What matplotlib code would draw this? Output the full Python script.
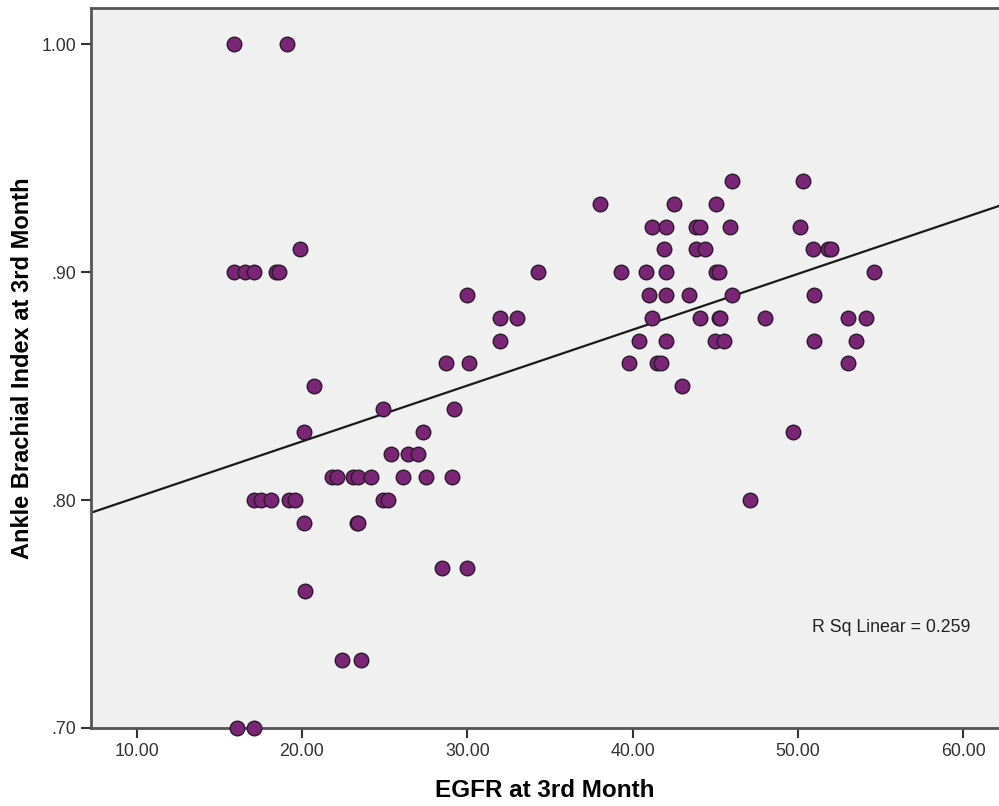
import numpy as np
import matplotlib
matplotlib.use("Agg")
import matplotlib.pyplot as plt

plt.rcParams['font.family'] = ['Liberation Sans', 'DejaVu Sans']

# EGFR values grouped by ABI level
abi_levels = [1.00, 0.94, 0.93, 0.92, 0.91, 0.90, 0.89, 0.88, 0.87, 0.86, 0.85,
              0.84, 0.83, 0.82, 0.81, 0.80, 0.79, 0.77, 0.76, 0.73, 0.70]
egfr_groups = [
    [15.9, 19.1],
    [46.0, 50.3],
    [38.0, 42.5, 45.05],
    [41.2, 42.0, 43.85, 44.1, 45.9, 50.1],
    [19.9, 41.9, 43.85, 44.4, 50.9, 51.8, 52.0],
    [15.9, 16.55, 17.1, 18.4, 18.6, 34.3, 39.3, 40.8, 42.0, 45.05, 45.2, 54.6],
    [30.0, 41.0, 42.0, 43.4, 46.0, 51.0],
    [32.0, 33.0, 41.2, 44.1, 45.2, 45.3, 48.0, 53.0, 54.1],
    [32.0, 40.4, 42.0, 45.0, 45.5, 51.0, 53.5],
    [28.7, 30.1, 39.8, 41.5, 41.7, 53.0],
    [20.7, 43.0],
    [24.9, 29.2],
    [20.1, 27.3, 49.7],
    [25.4, 26.4, 27.0],
    [21.8, 22.1, 23.1, 23.4, 24.2, 26.1, 27.5, 29.1],
    [17.1, 17.5, 18.1, 19.2, 19.6, 24.9, 25.2, 47.1],
    [20.1, 23.3, 23.4],
    [28.5, 30.0],
    [20.2],
    [22.4, 23.6],
    [16.1, 17.1],
]

# fit line as shown in the chart
fit_slope = 0.002451
fit_intercept = 0.7767
r2_label = "R Sq Linear = 0.259"

x_ticks = [10, 20, 30, 40, 50, 60]
x_tick_labels = ["10.00", "20.00", "30.00", "40.00", "50.00", "60.00"]
y_ticks = [0.70, 0.80, 0.90, 1.00]
y_tick_labels = [".70", ".80", ".90", "1.00"]

egfr = np.array([v for g in egfr_groups for v in g])
abi = np.array([lvl for lvl, g in zip(abi_levels, egfr_groups) for _ in g])

fig = plt.figure(figsize=(9.99, 8.06), dpi=100)
ax = fig.add_axes([91/999, 78/806, 1 - 91/999, (728-8)/806])
ax.set_facecolor('#f0f0f0')

xlim = (7.24, 62.16)
ylim = (0.70, 1.0159)
ax.set_xlim(*xlim)
ax.set_ylim(*ylim)

xs = np.array(xlim)
ax.plot(xs, fit_slope * xs + fit_intercept, color='#1a1a1a', lw=1.6, zorder=2)

ax.scatter(egfr, abi, s=110, c='#7b2577', edgecolors='#2b1a2b', linewidths=1.0,
           zorder=3, clip_on=False)

ax.text(50.85, 0.744, r2_label, fontsize=12.8, color='#222222',
        ha='left', va='center')

ax.set_xticks(x_ticks)
ax.set_xticklabels(x_tick_labels)
ax.set_yticks(y_ticks)
ax.set_yticklabels(y_tick_labels)
ax.tick_params(axis='both', direction='out', length=7.5, width=1.5, color='#333333',
               labelsize=12.8, labelcolor='#333333', pad=3)

for side in ['left', 'bottom', 'top']:
    ax.spines[side].set_color('#555555')
    ax.spines[side].set_linewidth(2)
ax.spines['right'].set_visible(False)

ax.set_xlabel("EGFR at 3rd Month", fontsize=17.5, fontweight='bold', labelpad=14)
ax.set_ylabel("Ankle Brachial Index at 3rd Month", fontsize=17, fontweight='bold')
ax.yaxis.set_label_coords(-0.063, 0.5)

fig.savefig("out.png", dpi=100)
